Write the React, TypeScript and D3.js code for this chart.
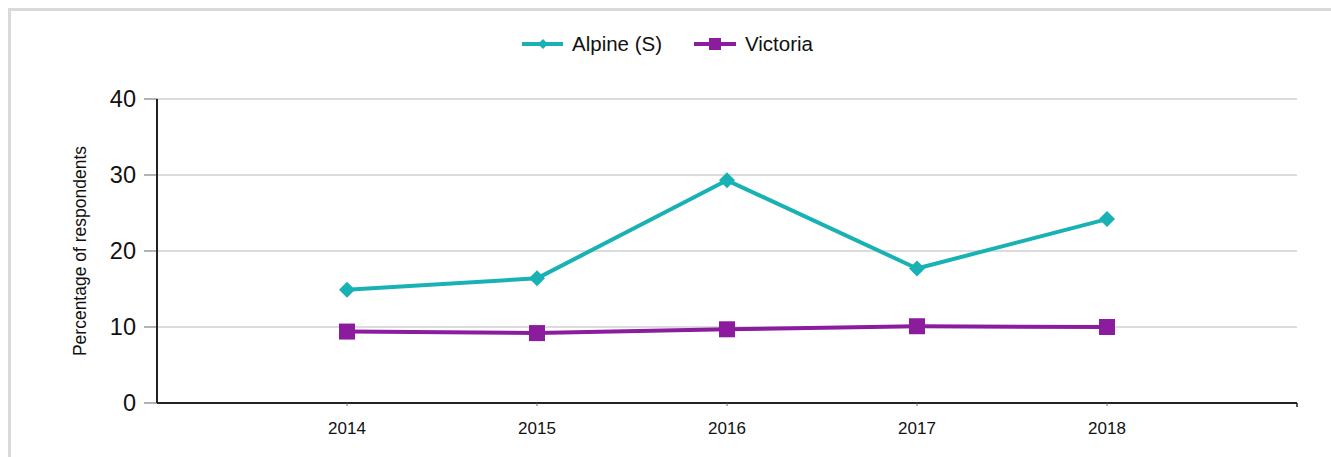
import React from "react";
import * as d3 from "d3";

const categories = ["2014", "2015", "2016", "2017", "2018"];
const alpineValues = [14.9, 16.4, 29.3, 17.7, 24.2];
const victoriaValues = [9.4, 9.2, 9.7, 10.1, 10.0];
const yTicks = [0, 10, 20, 30, 40];
const seriesNames = ["Alpine (S)", "Victoria"];

const W = 1331;
const H = 457;
const left = 157;
const right = 1297;
const top = 99;
const bottom = 403;
const TEAL = "#19b2b4";
const PURPLE = "#8b1c9e";

export default function App() {
  const x = d3.scalePoint<string>().domain(categories).range([left, right]).padding(1);
  const y = d3.scaleLinear().domain([0, 40]).range([bottom, top]);
  const line = d3
    .line<number>()
    .x((_, i) => x(categories[i]) as number)
    .y((d) => y(d));

  const diamond = (cx: number, cy: number, r: number) =>
    `M${cx},${cy - r}L${cx + r},${cy}L${cx},${cy + r}L${cx - r},${cy}Z`;

  return (
    <svg
      width={W}
      height={H}
      style={{ position: "absolute", left: 0, top: 0, background: "#fff" }}
      fontFamily="Arial, 'Liberation Sans', sans-serif"
    >
      <rect x={9.5} y={9.5} width={W + 20} height={H + 20} fill="none" stroke="#dadada" strokeWidth={3} />

      {yTicks.filter((t) => t > 0).map((t) => (
        <line key={t} x1={left} x2={right} y1={y(t)} y2={y(t)} stroke="#dcdcdc" strokeWidth={2} />
      ))}

      {yTicks.map((t) => (
        <g key={t}>
          <line x1={left - 13} x2={left} y1={y(t)} y2={y(t)} stroke="#9a9a9a" strokeWidth={1.5} />
          <text x={left - 21} y={y(t)} dy="0.36em" textAnchor="end" fontSize={23.5} fill="#111">
            {t}
          </text>
        </g>
      ))}

      <text
        transform={`translate(86,${(top + bottom) / 2}) rotate(-90)`}
        textAnchor="middle"
        fontSize={17.5}
        fill="#111"
      >
        Percentage of respondents
      </text>

      <line x1={left} x2={left} y1={top} y2={bottom} stroke="#222" strokeWidth={2} />
      <line x1={left} x2={right} y1={bottom} y2={bottom} stroke="#222" strokeWidth={2} />
      <line x1={right} x2={right} y1={bottom} y2={bottom + 4} stroke="#222" strokeWidth={1.5} />
      {categories.map((c) => (
        <g key={c}>
          <line x1={x(c)} x2={x(c)} y1={bottom} y2={bottom + 3} stroke="#666" strokeWidth={1} />
          <text x={x(c)} y={bottom + 31} textAnchor="middle" fontSize={17} fill="#111">
            {c}
          </text>
        </g>
      ))}

      <path d={line(alpineValues) || ""} fill="none" stroke={TEAL} strokeWidth={4} strokeLinejoin="round" />
      <path d={line(victoriaValues) || ""} fill="none" stroke={PURPLE} strokeWidth={4} strokeLinejoin="round" />
      {alpineValues.map((v, i) => (
        <path key={i} d={diamond(x(categories[i]) as number, y(v), 8)} fill={TEAL} />
      ))}
      {victoriaValues.map((v, i) => (
        <rect key={i} x={(x(categories[i]) as number) - 8} y={y(v) - 8} width={16} height={16} fill={PURPLE} />
      ))}

      <g>
        <line x1={522} x2={563} y1={44} y2={44} stroke={TEAL} strokeWidth={4} />
        <path d={diamond(543, 44, 5)} fill={TEAL} />
        <text x={572} y={44} dy="0.36em" fontSize={20.5} fill="#111">
          {seriesNames[0]}
        </text>
        <line x1={694} x2={736} y1={44} y2={44} stroke={PURPLE} strokeWidth={4} />
        <rect x={709} y={38} width={12} height={12} fill={PURPLE} />
        <text x={745} y={44} dy="0.36em" fontSize={20.5} fill="#111">
          {seriesNames[1]}
        </text>
      </g>
    </svg>
  );
}
